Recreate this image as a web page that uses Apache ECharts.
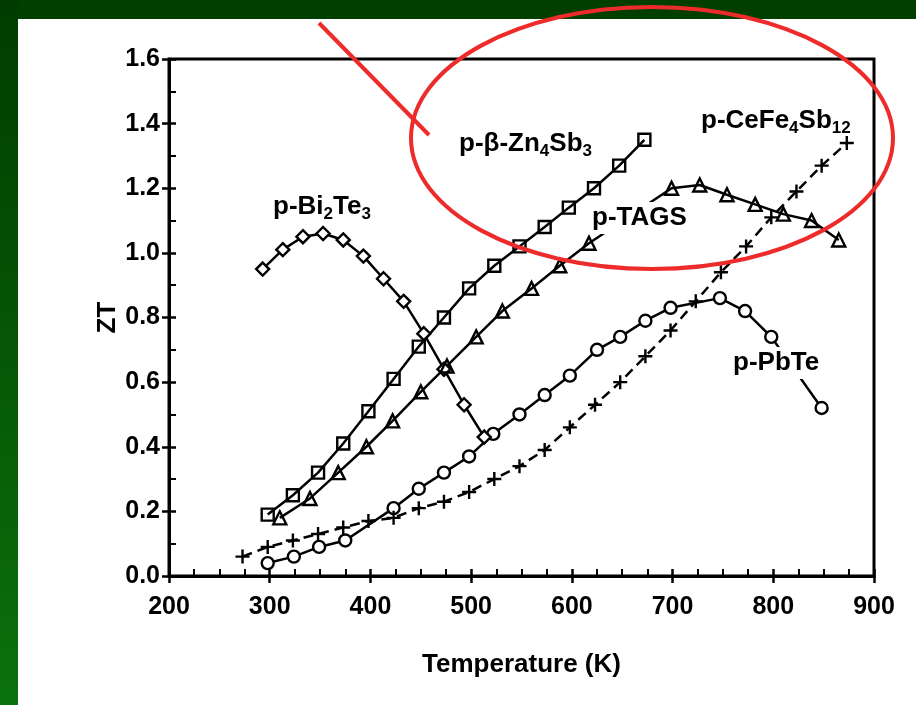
<!DOCTYPE html>
<html>
<head>
<meta charset="utf-8">
<script src="https://cdn.jsdelivr.net/npm/echarts@6/dist/echarts.min.js"></script>
<style>
  html, body { margin: 0; padding: 0; background: #fff; }
  #chart { width: 916px; height: 705px; }
</style>
</head>
<body>
<div id="chart"></div>
<script>
// Temperature axis ticks (K) and ZT ticks
const tempTicks = [200, 300, 400, 500, 600, 700, 800, 900];
const ztTicks = [0.0, 0.2, 0.4, 0.6, 0.8, 1.0, 1.2, 1.4, 1.6];

// p-Bi2Te3
const bi2te3T  = [293, 313, 333, 353, 373, 393, 413, 433, 453, 473, 493, 513];
const bi2te3ZT = [0.95, 1.01, 1.05, 1.06, 1.04, 0.99, 0.92, 0.85, 0.75, 0.64, 0.53, 0.43];

// p-beta-Zn4Sb3
const zn4sb3T  = [298, 323, 348, 373, 398, 423, 448, 473, 498, 523, 548, 573, 597, 622, 647, 672];
const zn4sb3ZT = [0.19, 0.25, 0.32, 0.41, 0.51, 0.61, 0.71, 0.80, 0.89, 0.96, 1.02, 1.08, 1.14, 1.20, 1.27, 1.35];

// p-TAGS
const tagsT  = [310, 340, 368, 396, 422, 450, 476, 505, 531, 560, 588, 617, 699, 727, 754, 782, 810, 838, 865];
const tagsZT = [0.18, 0.24, 0.32, 0.40, 0.48, 0.57, 0.65, 0.74, 0.82, 0.89, 0.96, 1.03, 1.20, 1.21, 1.18, 1.15, 1.12, 1.10, 1.04];

// p-PbTe
const pbteT  = [298, 324, 349, 375, 423, 448, 473, 498, 522, 548, 573, 598, 625, 648, 673, 698, 747, 772, 798, 848];
const pbteZT = [0.04, 0.06, 0.09, 0.11, 0.21, 0.27, 0.32, 0.37, 0.44, 0.50, 0.56, 0.62, 0.70, 0.74, 0.79, 0.83, 0.86, 0.82, 0.74, 0.52];

// p-CeFe4Sb12
const cefeT  = [273, 298, 323, 348, 373, 398, 423, 448, 473, 498, 523, 548, 573, 598, 623, 648, 673, 698, 723, 748, 773, 798, 823, 848, 873];
const cefeZT = [0.06, 0.09, 0.11, 0.13, 0.15, 0.17, 0.18, 0.21, 0.23, 0.26, 0.30, 0.34, 0.39, 0.46, 0.53, 0.60, 0.68, 0.76, 0.85, 0.94, 1.02, 1.11, 1.19, 1.27, 1.34];

const FONT = 'Liberation Sans, Arial, sans-serif';
const INK = '#000';
const RED = '#ee2b2b';

const pairs = (xs, ys) => xs.map((x, i) => [x, ys[i]]);

function curve(name, xs, ys, symbol, size, fill, dashed) {
  return {
    name: name,
    type: 'line',
    data: pairs(xs, ys),
    symbol: symbol,
    symbolSize: size,
    showAllSymbol: true,
    lineStyle: { color: INK, width: 2.5, type: dashed ? [10, 6] : 'solid' },
    itemStyle: { color: fill, borderColor: INK, borderWidth: 2.4 },
    emphasis: { disabled: true },
    silent: true
  };
}

const crossPath = 'path://M0,7L14,7M7,0L7,14';

// curve labels with subscripts
const richBase = {
  m: { fontFamily: FONT, fontWeight: 'bold', fontSize: 26, lineHeight: 32, fill: INK },
  s: { fontFamily: FONT, fontWeight: 'bold', fontSize: 17, lineHeight: 17, verticalAlign: 'bottom', fill: INK }
};
function curveLabel(text, x, y, bg) {
  const style = { text: text, rich: richBase, align: 'left', verticalAlign: 'middle' };
  if (bg) { style.backgroundColor = '#fff'; style.padding = [0, 3, 0, 3]; }
  return { type: 'text', x: x, y: y, z: 100, silent: true, style: style };
}

const valueTicks = (min, max, step) => ({ min: min, max: max, interval: step });

const chart = echarts.init(document.getElementById('chart'), null, { renderer: 'canvas' });

chart.setOption({
  animation: false,
  backgroundColor: '#fff',
  grid: {
    left: 169, right: 42, top: 59, bottom: 129,
    show: true, borderColor: INK, borderWidth: 3, backgroundColor: 'transparent'
  },
  xAxis: [
    Object.assign({
      type: 'value',
      position: 'bottom',
      name: 'Temperature (K)',
      nameLocation: 'middle',
      nameGap: 76,
      nameMoveOverlap: false,
      nameTextStyle: { fontFamily: FONT, fontWeight: 'bold', fontSize: 26, color: INK },
      axisLine: { show: true, lineStyle: { color: INK, width: 3 } },
      axisTick: { show: true, inside: true, length: 7, lineStyle: { color: INK, width: 2.5 } },
      minorTick: { show: true, splitNumber: 4, length: 7, lineStyle: { color: INK, width: 2 } },
      axisLabel: {
        fontFamily: FONT, fontWeight: 'bold', fontSize: 25, color: INK, margin: 19,
        formatter: v => (tempTicks.indexOf(v) >= 0 ? String(v) : '')
      },
      splitLine: { show: false }
    }, valueTicks(tempTicks[0], tempTicks[tempTicks.length - 1], 100)),
    Object.assign({
      type: 'value',
      position: 'bottom',
      axisLine: { show: false },
      axisTick: { show: true, inside: false, length: 7, lineStyle: { color: INK, width: 2.5 } },
      axisLabel: { show: false },
      splitLine: { show: false }
    }, valueTicks(tempTicks[0], tempTicks[tempTicks.length - 1], 100))
  ],
  yAxis: [
    Object.assign({
      type: 'value',
      position: 'left',
      name: 'ZT',
      nameLocation: 'middle',
      nameGap: 48,
      nameMoveOverlap: false,
      nameTextStyle: { fontFamily: FONT, fontWeight: 'bold', fontSize: 26, color: INK },
      axisLine: { show: true, lineStyle: { color: INK, width: 3 } },
      axisTick: { show: true, inside: true, length: 7, lineStyle: { color: INK, width: 2.5 } },
      minorTick: { show: true, splitNumber: 2, length: 7, lineStyle: { color: INK, width: 2 } },
      axisLabel: {
        fontFamily: FONT, fontWeight: 'bold', fontSize: 25, color: INK, margin: 9,
        formatter: v => v.toFixed(1)
      },
      splitLine: { show: false }
    }, valueTicks(ztTicks[0], ztTicks[ztTicks.length - 1], 0.2)),
    Object.assign({
      type: 'value',
      position: 'left',
      axisLine: { show: false },
      axisTick: { show: true, inside: false, length: 7, lineStyle: { color: INK, width: 2.5 } },
      axisLabel: { show: false },
      splitLine: { show: false }
    }, valueTicks(ztTicks[0], ztTicks[ztTicks.length - 1], 0.2))
  ],
  series: [
    curve('p-PbTe', pbteT, pbteZT, 'circle', 12, '#fff', false),
    curve('p-CeFe4Sb12', cefeT, cefeZT, crossPath, 14, INK, true),
    curve('p-Bi2Te3', bi2te3T, bi2te3ZT, 'diamond', 13, '#fff', false),
    curve('p-TAGS', tagsT, tagsZT, 'triangle', 13, 'rgba(255,255,255,0)', false),
    curve('p-beta-Zn4Sb3', zn4sb3T, zn4sb3ZT, 'rect', 12, 'rgba(255,255,255,0)', false)
  ],
  graphic: [
    // slide frame
    {
      type: 'rect', z: -50, silent: true,
      shape: { x: 0, y: 0, width: 916, height: 19 },
      style: { fill: '#003f00' }
    },
    {
      type: 'rect', z: -50, silent: true,
      shape: { x: 0, y: 0, width: 18, height: 705 },
      style: {
        fill: new echarts.graphic.LinearGradient(0, 0, 0, 1, [
          { offset: 0, color: '#003c00' },
          { offset: 1, color: '#0b720b' }
        ])
      }
    },
    // curve names
    curveLabel('{m|p-Bi}{s|2}{m|Te}{s|3}', 273, 207, false),
    curveLabel('{m|p-β-Zn}{s|4}{m|Sb}{s|3}', 459, 144, false),
    curveLabel('{m|p-CeFe}{s|4}{m|Sb}{s|12}', 701, 121, false),
    curveLabel('{m|p-TAGS}', 589, 218, true),
    curveLabel('{m|p-PbTe}', 730, 363, true),
    // red highlight marks
    {
      type: 'ellipse', z: 120, silent: true,
      shape: { cx: 652, cy: 138, rx: 241, ry: 131 },
      style: { fill: 'none', stroke: RED, lineWidth: 4 }
    },
    {
      type: 'line', z: 120, silent: true,
      shape: { x1: 319, y1: 23, x2: 429, y2: 135 },
      style: { stroke: RED, lineWidth: 4 }
    }
  ]
});
</script>
</body>
</html>
